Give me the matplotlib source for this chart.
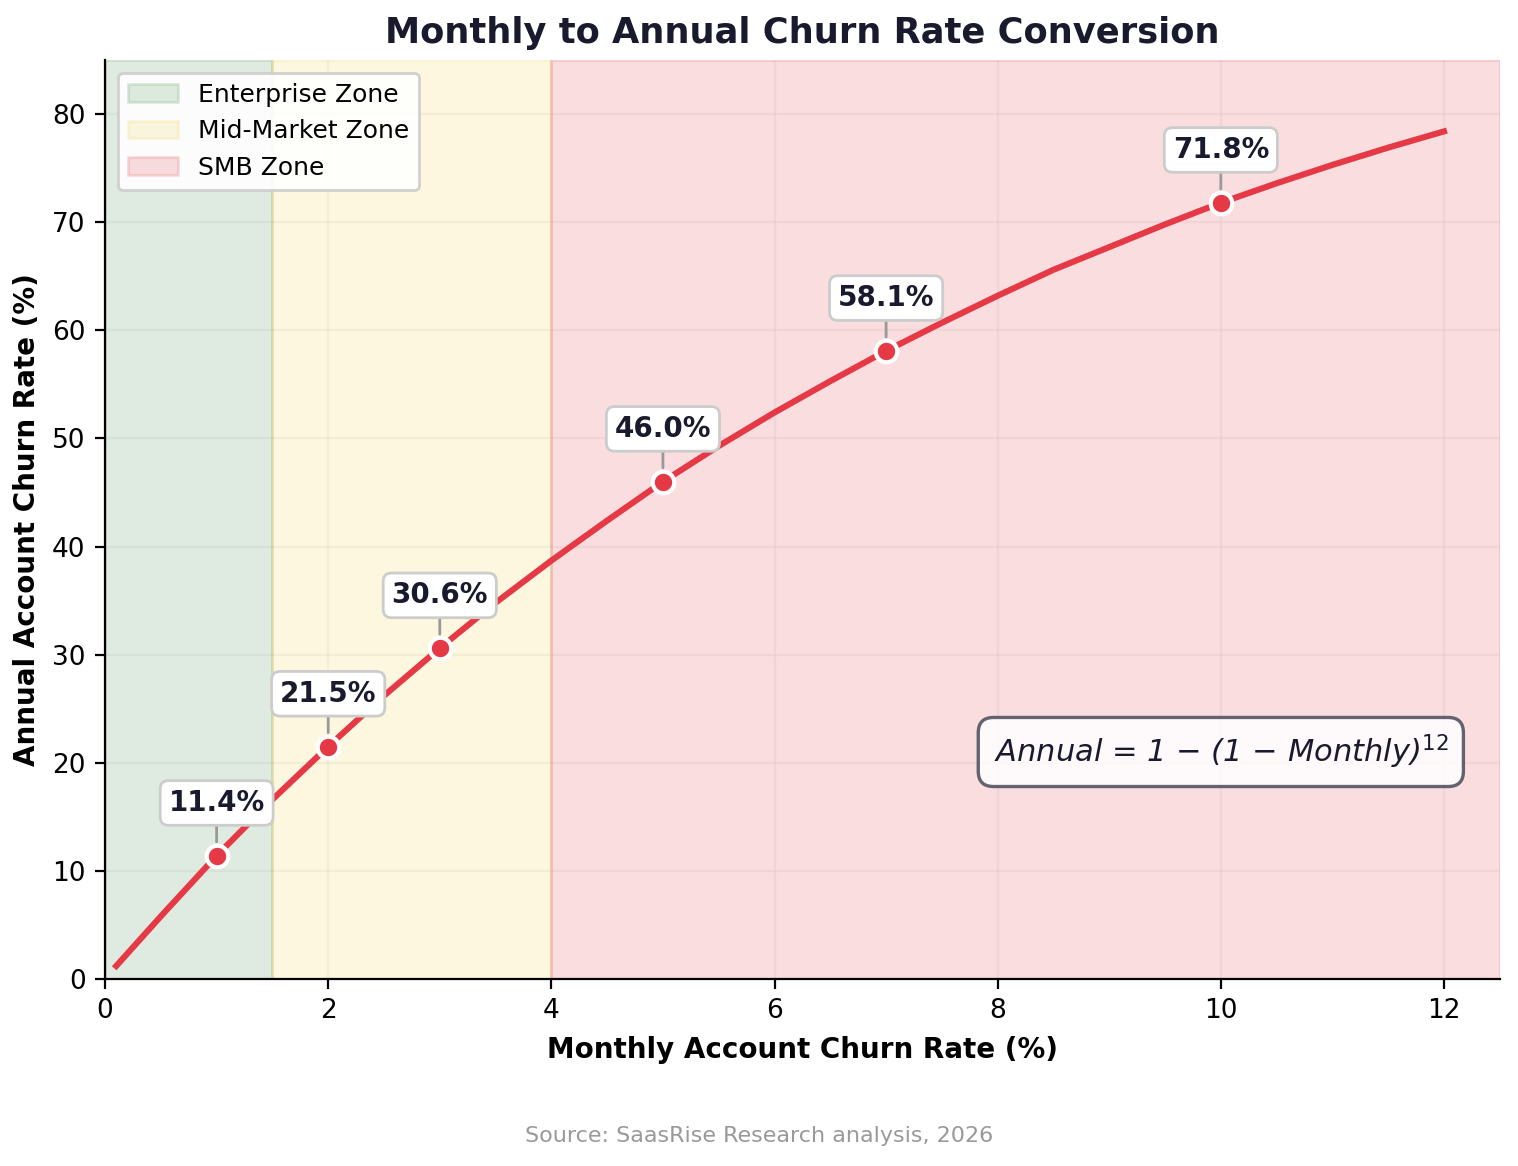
import matplotlib.pyplot as plt

# curve values (monthly %, annual %)
monthly_curve = [0.1, 0.5, 1, 1.5, 2, 2.5, 3, 3.5, 4, 4.5, 5, 5.5, 6, 6.5, 7, 7.5,
                 8, 8.5, 9, 9.5, 10, 10.5, 11, 11.5, 12]
annual_curve = [1.2, 5.8, 11.4, 16.6, 21.5, 26.2, 30.6, 34.8, 38.7, 42.4, 46.0,
                49.3, 52.4, 55.3, 58.1, 60.7, 63.2, 65.6, 67.7, 69.8, 71.8,
                73.6, 75.3, 76.9, 78.4]

# highlighted points
monthly_pts = [1, 2, 3, 5, 7, 10]
annual_pts = [11.4, 21.5, 30.6, 46.0, 58.1, 71.8]

zones = ['Enterprise Zone', 'Mid-Market Zone', 'SMB Zone']
zone_edges = [0, 1.5, 4, 12.5]
zone_colors = ['#2e7d32', '#f1c40f', '#e63946']
zone_alpha = [0.15, 0.13, 0.17]

dark = '#1a1a2e'
red = '#e63946'

fig, ax = plt.subplots(figsize=(7.59, 5.83), dpi=200)
fig.subplots_adjust(left=0.0692, right=0.988, bottom=0.1604, top=0.9485)

for i in range(len(zones)):
    ax.axvspan(zone_edges[i], zone_edges[i + 1], color=zone_colors[i],
               alpha=zone_alpha[i], label=zones[i])

ax.plot(monthly_curve, annual_curve, color=red, lw=2.2, zorder=3)
ax.scatter(monthly_pts, annual_pts, s=60, color=red, edgecolor='white',
           linewidth=1.5, zorder=4)

for m, a in zip(monthly_pts, annual_pts):
    ax.annotate('%.1f%%' % a, xy=(m, a), xytext=(0, 19), textcoords='offset points',
                ha='center', va='center', fontsize=10, fontweight='bold', color=dark,
                bbox=dict(boxstyle='round,pad=0.3', fc='white', ec='#cccccc', lw=1),
                arrowprops=dict(arrowstyle='-', color='#999999', lw=1,
                                shrinkA=0, shrinkB=5),
                zorder=5)

ax.text(0.80, 0.247, 'Annual = 1 \u2212 (1 \u2212 Monthly)$^{12}$', transform=ax.transAxes,
        ha='center', va='center', fontsize=11, style='italic', color=dark,
        bbox=dict(boxstyle='round,pad=0.5', fc='white', ec='#4a4a5a', lw=1.2, alpha=0.85))

ax.set_xlim(0, 12.5)
ax.set_ylim(0, 85)
ax.grid(True, color='#dddddd', alpha=0.3, lw=0.8)
ax.set_axisbelow(True)
ax.spines['top'].set_visible(False)
ax.spines['right'].set_visible(False)
ax.tick_params(labelsize=9.5)

ax.set_title('Monthly to Annual Churn Rate Conversion', fontsize=12.7,
             fontweight='bold', color=dark)
ax.set_xlabel('Monthly Account Churn Rate (%)', fontsize=10, fontweight='bold')
ax.set_ylabel('Annual Account Churn Rate (%)', fontsize=10, fontweight='bold')
ax.legend(loc='upper left', fontsize=9, framealpha=0.9)

fig.text(0.5, 0.026, 'Source: SaasRise Research analysis, 2026', ha='center',
         va='center', fontsize=8, color='#999999')

plt.savefig('out.png')
